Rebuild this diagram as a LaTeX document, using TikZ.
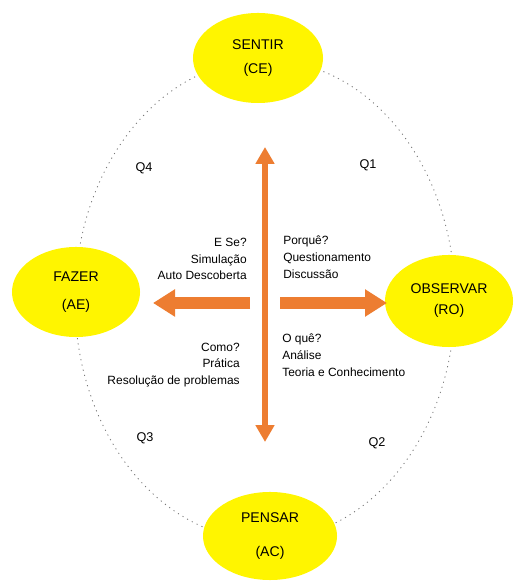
\documentclass[tikz,border=0pt]{standalone}
\usepackage{fontspec}
\setmainfont{Liberation Sans}
\usetikzlibrary{arrows.meta, positioning, shapes.geometric}
\definecolor{kyellow}{RGB}{255,245,0}
\definecolor{korange}{RGB}{237,125,49}
\definecolor{kgray}{RGB}{120,120,120}

\begin{document}
\begin{tikzpicture}[
  x=0.025cm, y=0.025cm,
  stage/.style={ellipse, fill=kyellow, inner sep=0pt, align=center,
    font=\fontsize{10}{12}\selectfont},
  cue/.style={font=\fontsize{8.5}{12}\selectfont, inner sep=0pt},
  quad/.style={font=\fontsize{9}{11}\selectfont, inner sep=0pt},
  vflow/.style={draw=korange, line width=0.15cm,
    {Triangle[length=0.42cm, width=0.45cm]}-{Triangle[length=0.42cm, width=0.45cm]}},
  hflow/.style={draw=korange, line width=0.3cm,
    -{Triangle[length=0.55cm, width=0.65cm]}}
]
\useasboundingbox (0,0) rectangle (517,584);

% ciclo pontilhado
\draw[kgray, line width=0.6pt, dash pattern=on 0.8pt off 3pt] (265,284) ellipse [x radius=190, y radius=240];

% estagios
\node[stage, minimum width=3.25cm, minimum height=2.25cm] (sentir) at (258,526) {SENTIR\\[5pt](CE)};
\node[stage, minimum width=3.2cm, minimum height=2.25cm] (fazer) at (76,292) {FAZER\\[8pt](AE)};
\node[stage, minimum width=3.2cm, minimum height=2.3cm] (observar) at (449,283) {OBSERVAR\\[3pt](RO)};
\node[stage, minimum width=3.35cm, minimum height=2.2cm] (pensar) at (270,48) {PENSAR\\[12pt](AC)};

% setas
\coordinate (vtop) at (265,437);
\coordinate (vbot) at (265,142);
\coordinate (hL) at (153,281);
\coordinate (hLs) at (250,281);
\coordinate (hR) at (387,281);
\coordinate (hRs) at (280,281);
\draw[vflow] (vtop) -- (vbot);
\draw[hflow] (hLs) -- (hL);
\draw[hflow] (hRs) -- (hR);

% perguntas
\node[cue, anchor=east, align=right] (tl) at (247,325) {E Se?\\Simulação\\Auto Descoberta};
\node[cue, anchor=west, align=left] (tr) at (283,327) {Porquê?\\Questionamento\\Discussão};
\node[cue, anchor=east, align=right] (bl) at (240,219) {Como?\\Prática\\Resolução de problemas};
\node[cue, anchor=west, align=left] (br) at (282,229) {O quê?\\Análise\\Teoria e Conhecimento};

% quadrantes
\node[quad] (q4) at (144,416) {Q4};
\node[quad] (q1) at (368,419) {Q1};
\node[quad] (q3) at (145,146) {Q3};
\node[quad] (q2) at (377,141) {Q2};
\end{tikzpicture}
\end{document}
